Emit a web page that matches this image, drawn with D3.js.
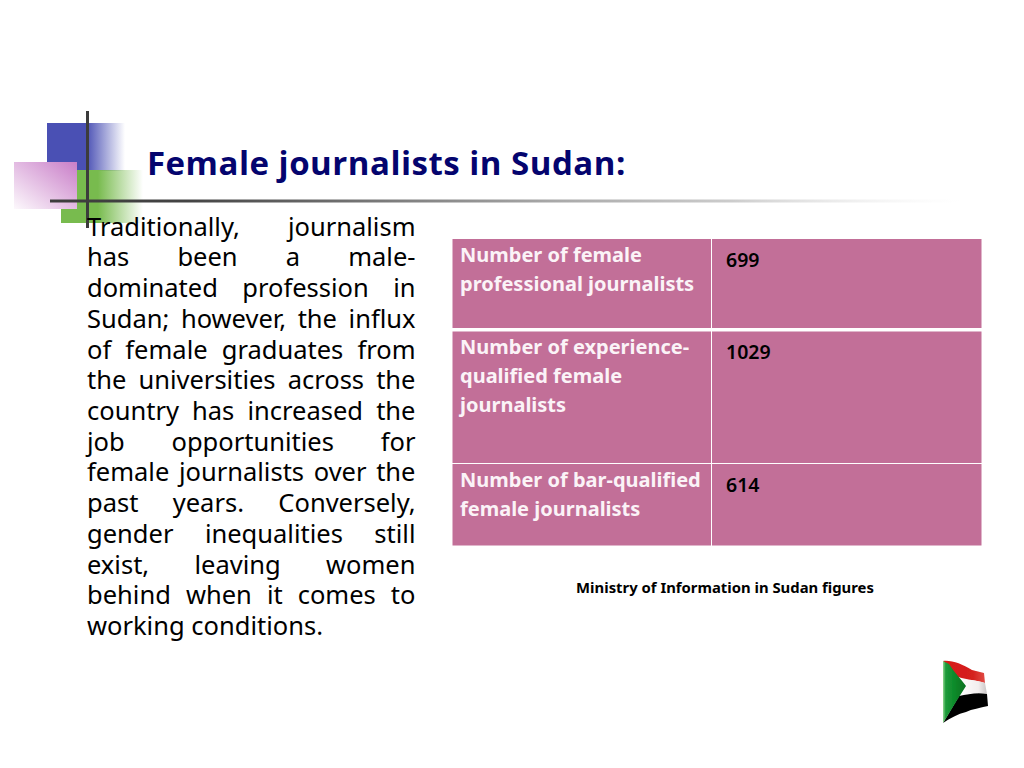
<!DOCTYPE html>
<html>
<head>
<meta charset="utf-8">
<title>Female journalists in Sudan</title>
<script src="https://cdn.jsdelivr.net/npm/d3@7"></script>
<style>
html, body { margin: 0; padding: 0; background: #fff; }
svg { display: block; font-family: "Noto Sans", "Open Sans", sans-serif; }
</style>
</head>
<body>
<div id="slide"></div>
<script>
// ---------- DATA ----------
const titleText = "Female journalists in Sudan:";
const sourceText = "Ministry of Information in Sudan figures";
const bodyLines = [
	"Traditionally, journalism",
	"has been a male-",
	"dominated profession in",
	"Sudan; however, the influx",
	"of female graduates from",
	"the universities across the",
	"country has increased the",
	"job opportunities for",
	"female journalists over the",
	"past years. Conversely,",
	"gender inequalities still",
	"exist, leaving women",
	"behind when it comes to",
	"working conditions.",
];
const rowLabels = [
	["Number of female", "professional journalists"],
	["Number of experience-", "qualified female", "journalists"],
	["Number of bar-qualified", "female journalists"],
];
const rowValues = [699, 1029, 614];

// ---------- LAYOUT ----------
const size = { w: 1024, h: 768 };
const rowTops = [239, 331.5, 464];
const rowHeights = [89, 131.5, 81.5];
const textTops = [239, 330.7, 463.8];
const pink = "#c26f98";

const svg = d3
	.select("#slide")
	.append("svg")
	.attr("width", size.w)
	.attr("height", size.h);
const defs = svg.append("defs");

function linearGrad(id, x1, y1, x2, y2, stops) {
	const g = defs
		.append("linearGradient")
		.attr("id", id)
		.attr("x1", x1)
		.attr("y1", y1)
		.attr("x2", x2)
		.attr("y2", y2);
	stops.forEach((s) => {
		g.append("stop")
			.attr("offset", s[0])
			.attr("stop-color", s[1])
			.attr("stop-opacity", s[2]);
	});
}

linearGrad("blueGrad", 0, 0, 1, 0, [
	[0, "#4a50b4", 1],
	[0.5, "#4a50b4", 1],
	[1, "#4a50b4", 0],
]);
linearGrad("greenGrad", 0, 0, 1, 0, [
	[0, "#78bb4e", 1],
	[0.45, "#78bb4e", 1],
	[1, "#78bb4e", 0],
]);
linearGrad("purpleGrad", 1, 0, 0, 1, [
	[0, "#c97ec8", 1],
	[1, "#c97ec8", 0.05],
]);
linearGrad("ruleGrad", 0, 0, 1, 0, [
	[0, "#3c3c3c", 1],
	[0.15, "#444444", 1],
	[0.42, "#888888", 1],
	[0.56, "#aaaaaa", 1],
	[0.75, "#cccccc", 1],
	[1, "#eeeeee", 0],
]);
linearGrad("flagGreen", 0, 0, 1, 0, [
	[0, "#8fd68f", 1],
	[0.12, "#1d9a3a", 1],
	[0.5, "#0c8a2a", 1],
	[1, "#06701f", 1],
]);
linearGrad("flagRed", 0, 0, 1, 0, [
	[0, "#d81c18", 1],
	[0.7, "#d4201c", 1],
	[1, "#e04a44", 1],
]);
linearGrad("flagWhite", 0, 0, 1, 0, [
	[0, "#ffffff", 1],
	[0.7, "#f2eeee", 1],
	[1, "#c8c4c4", 1],
]);
defs.append("filter")
	.attr("id", "soft")
	.append("feGaussianBlur")
	.attr("stdDeviation", 0.5);

// ---------- LOGO SQUARES ----------
const logo = svg.append("g").classed("logo", true);
logo.append("rect").attr("x", 47).attr("y", 123).attr("width", 78).attr("height", 48).attr("fill", "url(#blueGrad)");
logo.append("rect").attr("x", 61).attr("y", 170).attr("width", 82).attr("height", 53).attr("fill", "url(#greenGrad)");
logo.append("rect").attr("x", 14).attr("y", 162).attr("width", 63).attr("height", 47).attr("fill", "#fff");
logo.append("rect").attr("x", 14).attr("y", 162).attr("width", 63).attr("height", 47).attr("fill", "url(#purpleGrad)");
logo.append("rect").attr("x", 86).attr("y", 111).attr("width", 3).attr("height", 117).attr("fill", "#3c3c3c");
logo.append("rect").attr("x", 50).attr("y", 199.5).attr("width", 910).attr("height", 3).attr("fill", "url(#ruleGrad)");

// ---------- TITLE ----------
svg.append("text")
	.attr("x", 147)
	.attr("y", 175)
	.attr("font-size", 33)
	.attr("font-weight", 700)
	.attr("letter-spacing", 0.5)
	.attr("font-family", "Open Sans")
	.attr("fill", "#04046e")
	.text(titleText);

// ---------- BODY TEXT (justified by hand) ----------
const bodyY = d3
	.scaleLinear()
	.domain([0, bodyLines.length - 1])
	.range([235.7, 635]);
const bodyLeft = 87;
const bodyRight = 415.5;

svg.append("g")
	.classed("body-text", true)
	.selectAll("text")
	.data(bodyLines)
	.enter()
	.append("text")
	.attr("x", bodyLeft)
	.attr("y", (d, i) => bodyY(i))
	.attr("font-size", 25.5)
	.attr("fill", "#000")
	.style("white-space", "pre")
	.text((d) => d)
	.each(function (d, i) {
		if (i === bodyLines.length - 1) return;
		const gaps = d.split(" ").length - 1;
		const extra = bodyRight - bodyLeft - this.getComputedTextLength();
		d3.select(this).attr("word-spacing", extra / gaps);
	});

// ---------- TABLE ----------
const table = svg.append("g").classed("table", true);
const tableData = rowLabels.map((label, i) => ({ label, value: rowValues[i], top: rowTops[i], h: rowHeights[i], textTop: textTops[i] }));

table.selectAll("g.row")
	.data(tableData)
	.enter()
	.append("g")
	.classed("row", true)
	.attr("transform", (d) => `translate(0, ${d.top})`)
	.each(function (d) {
		const row = d3.select(this);
		row.append("rect").attr("x", 452.5).attr("width", 258.5).attr("height", d.h).attr("fill", pink);
		row.append("rect").attr("x", 712).attr("width", 269.5).attr("height", d.h).attr("fill", pink);
	});

const rowText = table
	.selectAll("g.row-text")
	.data(tableData)
	.enter()
	.append("g")
	.classed("row-text", true)
	.attr("transform", (d) => `translate(0, ${d.textTop})`);

rowText
	.selectAll(".label")
	.data((d) => d.label)
	.enter()
	.append("text")
	.classed("label", true)
	.attr("x", 460)
	.attr("y", (d, i) => 23 + i * 29.2)
	.attr("font-size", 20)
	.attr("font-weight", 700)
	.attr("fill", "#fbf3f7")
	.text((d) => d);

rowText
	.append("text")
	.attr("x", 726)
	.attr("y", 28.4)
	.attr("font-size", 19.5)
	.attr("font-weight", 600)
	.attr("fill", "#000")
	.text((d) => d.value);

svg.append("text")
	.attr("x", 725)
	.attr("y", 592.5)
	.attr("text-anchor", "middle")
	.attr("font-size", 14.85)
	.attr("font-weight", 700)
	.attr("fill", "#000")
	.text(sourceText);

// ---------- FLAG ----------
const flag = svg.append("g").classed("flag", true).attr("filter", "url(#soft)");
flag.append("path")
	.attr("d", "M943,661 C952,660 962,664 972,670 L984,673 L985,683 C976,680 968,680 961,679 L950,671 Z")
	.attr("fill", "url(#flagRed)");
flag.append("path")
	.attr("d", "M958,677 C968,680 976,680 985,683 L987,694 C979,692 972,693 966,695 L959,697 L966,686 Z")
	.attr("fill", "url(#flagWhite)");
flag.append("path")
	.attr("d", "M959,696 C968,694 978,692 987,694 L988,706 C980,708 972,709 966,712 C958,714 950,718 943,723 Z")
	.attr("fill", "#050505");
flag.append("path")
	.attr("d", "M943,661 L949,664 C954,672 960,678 966,686 L959,697 C954,705 948,715 943,723 Z")
	.attr("fill", "url(#flagGreen)");
</script>
</body>
</html>
